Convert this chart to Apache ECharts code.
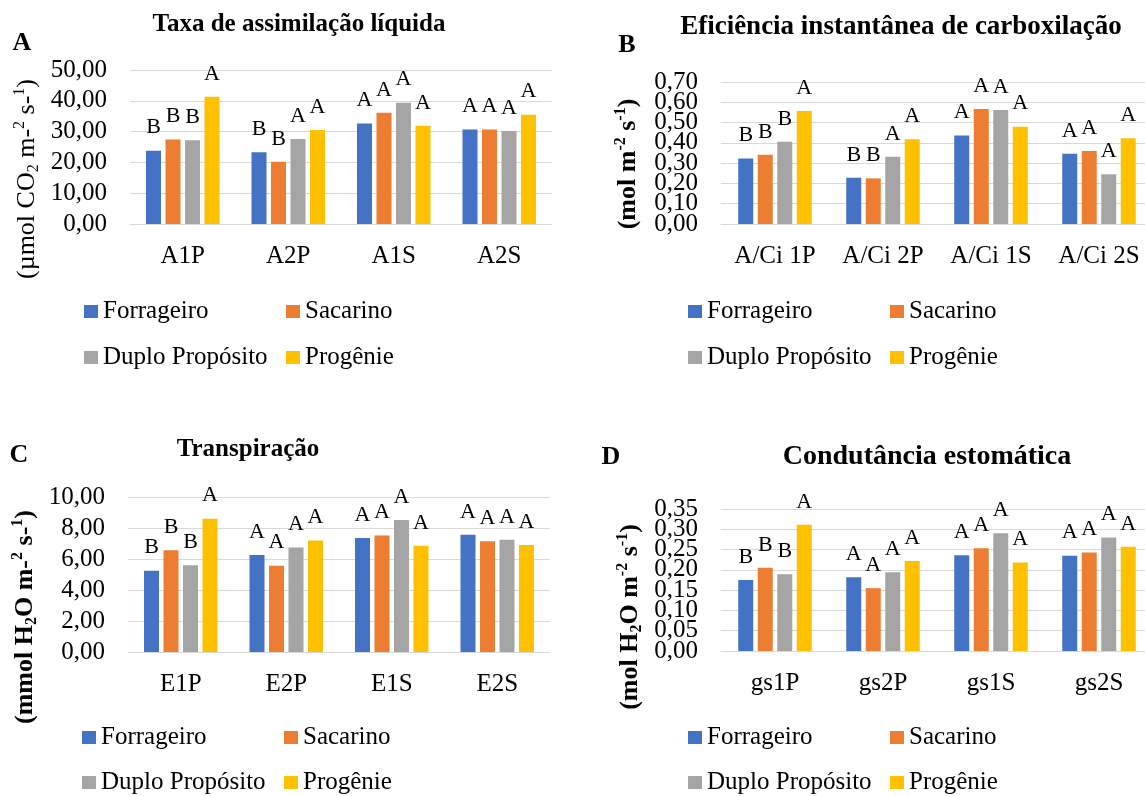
<!DOCTYPE html>
<html><head><meta charset="utf-8">
<script src="https://cdn.jsdelivr.net/npm/echarts@6/dist/echarts.min.js"></script>
<style>html,body{margin:0;padding:0;background:#fff;}#c{width:1145px;height:796px;}</style>
</head><body><div id="c"></div>
<script>
// ---------- data ----------
const seriesNames = ['Forrageiro', 'Sacarino', 'Duplo Propósito', 'Progênie'];

const categoriesA = ['A1P', 'A2P', 'A1S', 'A2S'];
const forrageiroA = [23.8, 23.3, 32.6, 30.7];
const sacarinoA   = [27.4, 20.2, 36.1, 30.7];
const duploA      = [27.2, 27.6, 39.4, 30.2];
const progenieA   = [41.3, 30.5, 31.9, 35.5];
const lettersForrageiroA = ['B', 'B', 'A', 'A'];
const lettersSacarinoA   = ['B', 'B', 'A', 'A'];
const lettersDuploA      = ['B', 'A', 'A', 'A'];
const lettersProgenieA   = ['A', 'A', 'A', 'A'];
const ticksA = ['0,00', '10,00', '20,00', '30,00', '40,00', '50,00'];

const categoriesB = ['A/Ci 1P', 'A/Ci 2P', 'A/Ci 1S', 'A/Ci 2S'];
const forrageiroB = [0.323, 0.228, 0.436, 0.346];
const sacarinoB   = [0.341, 0.225, 0.567, 0.360];
const duploB      = [0.405, 0.331, 0.562, 0.245];
const progenieB   = [0.557, 0.418, 0.480, 0.423];
const lettersForrageiroB = ['B', 'B', 'A', 'A'];
const lettersSacarinoB   = ['B', 'B', 'A', 'A'];
const lettersDuploB      = ['B', 'A', 'A', 'A'];
const lettersProgenieB   = ['A', 'A', 'A', 'A'];
const ticksB = ['0,00', '0,10', '0,20', '0,30', '0,40', '0,50', '0,60', '0,70'];

const categoriesC = ['E1P', 'E2P', 'E1S', 'E2S'];
const forrageiroC = [5.25, 6.26, 7.36, 7.56];
const sacarinoC   = [6.57, 5.57, 7.52, 7.15];
const duploC      = [5.59, 6.74, 8.51, 7.24];
const progenieC   = [8.60, 7.19, 6.85, 6.91];
const lettersForrageiroC = ['B', 'A', 'A', 'A'];
const lettersSacarinoC   = ['B', 'A', 'A', 'A'];
const lettersDuploC      = ['B', 'A', 'A', 'A'];
const lettersProgenieC   = ['A', 'A', 'A', 'A'];
const ticksC = ['0,00', '2,00', '4,00', '6,00', '8,00', '10,00'];

const categoriesD = ['gs1P', 'gs2P', 'gs1S', 'gs2S'];
const forrageiroD = [0.175, 0.182, 0.236, 0.235];
const sacarinoD   = [0.205, 0.155, 0.253, 0.243];
const duploD      = [0.189, 0.194, 0.290, 0.280];
const progenieD   = [0.311, 0.222, 0.218, 0.257];
const lettersForrageiroD = ['B', 'A', 'A', 'A'];
const lettersSacarinoD   = ['B', 'A', 'A', 'A'];
const lettersDuploD      = ['B', 'A', 'A', 'A'];
const lettersProgenieD   = ['A', 'A', 'A', 'A'];
const ticksD = ['0,00', '0,05', '0,10', '0,15', '0,20', '0,25', '0,30', '0,35'];

// ---------- styles / layout ----------
const FONT = '"Liberation Serif", "Times New Roman", serif';
const colors = ['#4472C4', '#ED7D31', '#A5A5A5', '#FFC000'];
const TICK_SIZE = 25;

const panels = [
  { cats: categoriesA, values: [forrageiroA, sacarinoA, duploA, progenieA],
    letters: [lettersForrageiroA, lettersSacarinoA, lettersDuploA, lettersProgenieA],
    ticks: ticksA, max: 50, interval: 10, dense: false,
    grid: { left: 130, top: 70, width: 422, height: 154 },
    legendPos: [[84, 312], [286, 312], [84, 358], [286, 358]] },
  { cats: categoriesB, values: [forrageiroB, sacarinoB, duploB, progenieB],
    letters: [lettersForrageiroB, lettersSacarinoB, lettersDuploB, lettersProgenieB],
    ticks: ticksB, max: 0.7, interval: 0.1, dense: true,
    grid: { left: 721, top: 82, width: 432, height: 142 },
    legendPos: [[688, 312], [890, 312], [688, 358], [890, 358]] },
  { cats: categoriesC, values: [forrageiroC, sacarinoC, duploC, progenieC],
    letters: [lettersForrageiroC, lettersSacarinoC, lettersDuploC, lettersProgenieC],
    ticks: ticksC, max: 10, interval: 2, dense: false,
    grid: { left: 128, top: 497, width: 422, height: 155 },
    legendPos: [[82, 738], [284, 738], [82, 783], [284, 783]] },
  { cats: categoriesD, values: [forrageiroD, sacarinoD, duploD, progenieD],
    letters: [lettersForrageiroD, lettersSacarinoD, lettersDuploD, lettersProgenieD],
    ticks: ticksD, max: 0.35, interval: 0.05, dense: true,
    grid: { left: 721, top: 509, width: 432, height: 142 },
    legendPos: [[688, 738], [890, 738], [688, 783], [890, 783]] }
];

const grids = [], xAxes = [], yAxes = [], series = [], legends = [];
function yAxisDef(p, pi, parity, withGrid) {
  // parity: null = all labels, 0 = even-index labels, 1 = odd-index labels
  return {
    type: 'value', gridIndex: pi, position: 'left', min: 0, max: p.max, interval: p.interval,
    axisLine: { show: false }, axisTick: { show: false },
    splitLine: { show: withGrid, lineStyle: { color: '#D9D9D9', width: 1 } },
    axisLabel: { fontFamily: FONT, fontSize: TICK_SIZE, color: '#000', margin: 23,
      showMinLabel: true, showMaxLabel: true, hideOverlap: false,
      formatter: (v) => {
        const i = Math.round(v / p.interval);
        if (parity !== null && i % 2 !== parity) return '';
        return p.ticks[i];
      } }
  };
}
panels.forEach((p, pi) => {
  grids.push(Object.assign({ outerBoundsMode: 'none', containLabel: false }, p.grid));
  xAxes.push({
    type: 'category', gridIndex: pi, data: p.cats,
    axisLine: { lineStyle: { color: '#D9D9D9', width: 1 } },
    axisTick: { show: false },
    axisLabel: { fontFamily: FONT, fontSize: TICK_SIZE, color: '#000', margin: 20,
      interval: 0, hideOverlap: false }
  });
  const yIdx = yAxes.length;
  if (p.dense) {
    yAxes.push(yAxisDef(p, pi, 0, true));
    yAxes.push(yAxisDef(p, pi, 1, false));
  } else {
    yAxes.push(yAxisDef(p, pi, null, true));
  }
  p.values.forEach((vals, si) => {
    const lt = p.letters[si];
    series.push({
      type: 'bar', name: seriesNames[si], xAxisIndex: pi, yAxisIndex: yIdx,
      data: vals, barWidth: 15, barGap: '30%',
      itemStyle: { color: colors[si] },
      label: { show: true, position: 'top', distance: 12, fontFamily: FONT,
        fontSize: 22, color: '#000',
        formatter: (prm) => lt[prm.dataIndex] },
      labelLayout: { hideOverlap: false },
      emphasis: { disabled: true }, animation: false
    });
    legends.push({
      data: [seriesNames[si]], left: p.legendPos[si][0], top: p.legendPos[si][1] - 13,
      padding: 0, icon: 'rect', itemWidth: 14, itemHeight: 13, selectedMode: false,
      textStyle: { fontFamily: FONT, fontSize: TICK_SIZE, color: '#000' }
    });
  });
});

function txt(x, y, text, size, weight) {
  return { type: 'text', x: x, y: y, silent: true,
    style: { text: text, font: weight + ' ' + size + 'px ' + FONT, fill: '#000',
      align: 'center', verticalAlign: 'middle', textAlign: 'center', textVerticalAlign: 'middle' } };
}
function axisTitle(x, y, text, weight) {
  const base = { fontSize: 26, fontFamily: FONT, fontWeight: weight, fill: '#000', lineHeight: 30 };
  const small = { fontSize: 16, fontFamily: FONT, fontWeight: weight, fill: '#000', lineHeight: 16 };
  return { type: 'text', x: x, y: y, rotation: Math.PI / 2, silent: true,
    style: { text: text, fill: '#000', font: weight + ' 26px ' + FONT,
      align: 'center', verticalAlign: 'middle', textAlign: 'center', textVerticalAlign: 'middle',
      rich: { n: base, sup: Object.assign({ verticalAlign: 'top' }, small),
              sub: Object.assign({ verticalAlign: 'bottom' }, small) } } };
}

const graphics = [
  txt(299, 25, 'Taxa de assimilação líquida', 25, 'bold'),
  txt(901, 27, 'Eficiência instantânea de carboxilação', 27, 'bold'),
  txt(248, 450, 'Transpiração', 25, 'bold'),
  txt(927, 457, 'Condutância estomática', 28, 'bold'),
  txt(22, 43, 'A', 26, 'bold'),
  txt(627, 45, 'B', 26, 'bold'),
  txt(19, 455, 'C', 26, 'bold'),
  txt(611, 457, 'D', 26, 'bold'),
  axisTitle(27, 179, '{n|(µmol CO}{sub|2}{n| m-}{sup|2}{n| s-}{sup|1}{n|)}', 'normal'),
  axisTitle(628, 164, '{n|(mol m}{sup|-2}{n| s}{sup|-1}{n|)}', 'bold'),
  axisTitle(25, 617, '{n|(mmol H}{sub|2}{n|O m-}{sup|2}{n| s-}{sup|1}{n|)}', 'bold'),
  axisTitle(630, 617, '{n|(mol H}{sub|2}{n|O m}{sup|-2}{n| s}{sup|-1}{n|)}', 'bold')
];

const chart = echarts.init(document.getElementById('c'), null, { renderer: 'canvas' });
chart.setOption({
  animation: false,
  backgroundColor: '#fff',
  grid: grids, xAxis: xAxes, yAxis: yAxes, series: series, legend: legends,
  graphic: graphics
});
</script></body></html>
